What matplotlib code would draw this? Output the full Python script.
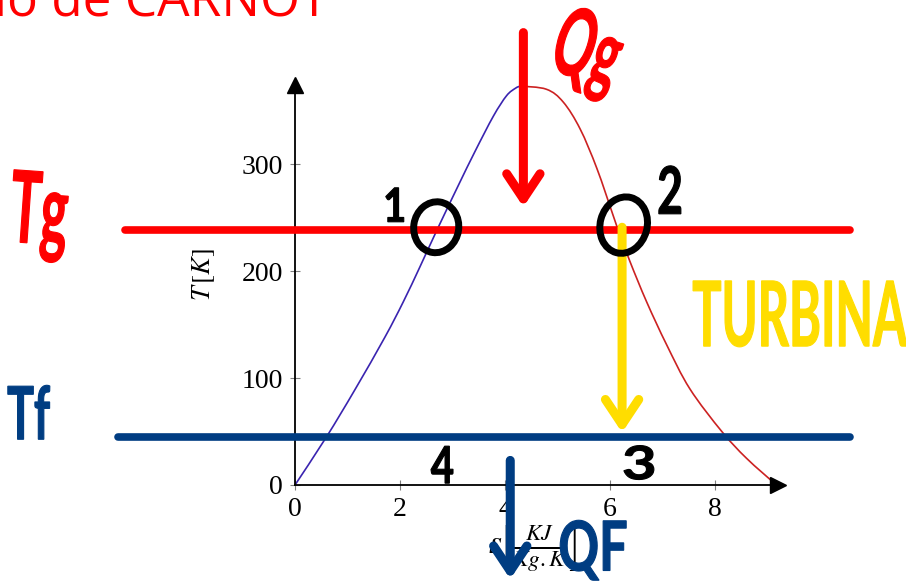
import matplotlib
matplotlib.use("Agg")
import matplotlib.pyplot as plt
from matplotlib.patches import Ellipse, PathPatch
from matplotlib.path import Path
from matplotlib.textpath import TextPath
from matplotlib.font_manager import FontProperties
from matplotlib.transforms import Affine2D, ScaledTranslation

# saturation dome, liquid side (s in kJ/kg.K, T in K)
s_liq = [0, 0.60, 1.14, 1.71, 2.06, 2.38, 2.70, 3.11, 3.43, 3.78, 4.03, 4.20, 4.29]
T_liq = [0, 45, 89, 138, 171, 204, 238, 280, 312, 345, 364, 371, 373]
# vapour side
s_vap = [4.29, 4.79, 5.11, 5.43, 5.75, 6.06, 6.16, 6.38, 6.70, 7.08, 7.52, 8.13, 8.60, 9.17]
T_vap = [373, 370, 358, 333, 296, 252, 238, 209, 171, 131, 90, 50, 25, 0]

x_ticks = [0, 2, 4, 6, 8]
y_ticks = [0, 100, 200, 300]

# hot / cold reservoir temperatures and the states on them
T_hot = 238
T_cold = 45
s_1 = 2.70
s_2 = 6.18

red = "#ff0000"
navy = "#003d82"
yellow = "#ffdd00"

plt.rcParams["mathtext.fontset"] = "stix"

fig = plt.figure(figsize=(9.06, 5.81), dpi=100)
ax = fig.add_axes([295/906, 96/581, 483/906, 400/581])
ax.set_xlim(0, 9.2)
ax.set_ylim(0, 374)

for side in ["top", "right"]:
    ax.spines[side].set_visible(False)
ax.spines["left"].set_linewidth(1.3)
ax.spines["bottom"].set_linewidth(1.3)
ax.plot(1, 0, ">k", ms=11, transform=ax.transAxes, clip_on=False)
ax.plot(0, 1, "^k", ms=11, transform=ax.transAxes, clip_on=False)

ax.set_xticks(x_ticks)
ax.set_yticks(y_ticks)
ax.tick_params(direction="inout", length=7, width=0.8, color="gray",
               labelsize=20, pad=5)
for lab in ax.get_xticklabels() + ax.get_yticklabels():
    lab.set_family("Liberation Serif")

ax.text(-0.19, 0.525, "$T\\,[K]$", rotation=90, ha="center", va="center",
        fontsize=19, transform=ax.transAxes)
ax.text(4.53, -60, r"$s\left[\frac{KJ}{Kg.K}\right]$", ha="center",
        va="center", fontsize=24, clip_on=False)


def smooth(xs, ys):
    # Catmull-Rom through the points, written as cubic Bezier pieces
    pts = list(zip(xs, ys))
    pts = [pts[0]] + pts + [pts[-1]]
    verts = [pts[1]]
    codes = [Path.MOVETO]
    for i in range(1, len(pts) - 2):
        p0, p1, p2, p3 = pts[i - 1], pts[i], pts[i + 1], pts[i + 2]
        c1 = (p1[0] + (p2[0] - p0[0]) / 6, p1[1] + (p2[1] - p0[1]) / 6)
        c2 = (p2[0] - (p3[0] - p1[0]) / 6, p2[1] - (p3[1] - p1[1]) / 6)
        verts += [c1, c2, p2]
        codes += [Path.CURVE4] * 3
    return Path(verts, codes)


# dome
ax.add_patch(PathPatch(smooth(s_liq, T_liq), fill=False, ec="#3a24b0",
                       lw=1.2, clip_on=False))
ax.add_patch(PathPatch(smooth(s_vap, T_vap), fill=False, ec="#cc2222",
                       lw=1.2, clip_on=False))

# title
fig.text(328/906, 1 - 15/581, "Ciclo de CARNOT", color=red, fontsize=37,
         family="Open Sans", ha="right", va="baseline")

# isotherms
ax.plot([-3.24, 10.57], [T_hot, T_hot], color=red, lw=5.5,
        solid_capstyle="round", clip_on=False, zorder=3)
ax.plot([-3.37, 10.57], [T_cold, T_cold], color=navy, lw=5.5,
        solid_capstyle="round", clip_on=False, zorder=3)


def hand_arrow(x, y0, y1, color):
    ax.annotate("", xy=(x, y1), xytext=(x, y0), annotation_clip=False,
                arrowprops=dict(arrowstyle="->,head_length=0.6,head_width=0.4",
                                lw=6.5, color=color, shrinkA=0, shrinkB=0,
                                mutation_scale=30, capstyle="round",
                                joinstyle="round"), zorder=5)


hand_arrow(4.35, 423, 260, red)
hand_arrow(6.23, 241, 49, yellow)
hand_arrow(4.10, 23, -88, navy)


def at(s, T):
    return ScaledTranslation(s, T, ax.transData)


# state points 1 and 2 circled (sizes in pixels)
ax.add_patch(Ellipse((0, 0), 45, 51, angle=-8, fill=False, ec="black",
                     lw=5, zorder=6, clip_on=False,
                     transform=Affine2D() + at(s_1 - 0.01, T_hot + 3)))
ax.add_patch(Ellipse((0, 0), 47, 57, angle=-15, fill=False, ec="black",
                     lw=5, zorder=6, clip_on=False,
                     transform=Affine2D() + at(s_2 + 0.08, T_hot + 5)))

hand_font = FontProperties(family="Lato", weight="bold")


def scribble(text, s, T, w, h, color, angle=0):
    # marker lettering squeezed into a w x h pixel box centred on (s, T)
    tp = TextPath((0, 0), text, size=1, prop=hand_font)
    bb = tp.get_extents()
    tr = (Affine2D()
          .translate(-(bb.x0 + bb.x1) / 2, -(bb.y0 + bb.y1) / 2)
          .scale(w / bb.width, h / bb.height)
          .rotate_deg(angle))
    ax.add_patch(PathPatch(tp, fc=color, ec=color, lw=0.8, zorder=7,
                           clip_on=False, transform=tr + at(s, T)))


scribble("1", 1.90, 262, 18, 34, "black")
scribble("2", 7.14, 276, 22, 48, "black")
scribble("3", 6.55, 21, 30, 34, "black")
scribble("4", 2.80, 19, 22, 37, "black")

scribble("Tg", -4.88, 251, 56, 90, red, angle=-4)
scribble("Tf", -5.07, 68, 42, 54, navy)
scribble("Qg", 5.56, 403, 64, 86, red, angle=-18)
scribble("QF", 5.68, -61, 66, 60, navy)
scribble("TURBINA", 9.62, 160, 214, 66, yellow)

fig.savefig("out.png", dpi=100, facecolor="white")
